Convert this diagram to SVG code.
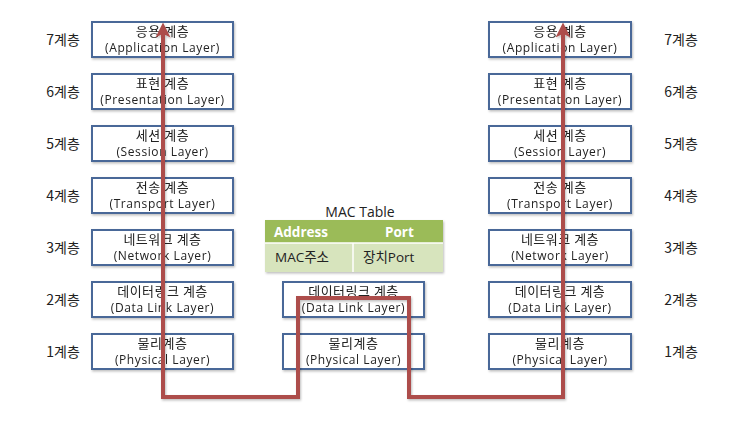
<svg xmlns="http://www.w3.org/2000/svg" width="729" height="428" viewBox="0 0 729 428">
<defs>
<style>
.box{fill:#fff;stroke:#4A6898;stroke-width:2}
.t{font-family:"Noto Sans CJK KR","Noto Sans",sans-serif;font-size:13px;letter-spacing:0.5px;fill:#222;text-anchor:middle}
.e{font-family:"Open Sans","Noto Sans CJK KR",sans-serif;font-size:12px;letter-spacing:0.6px;fill:#222;text-anchor:middle}
.lbl{font-family:"Noto Sans CJK KR","Noto Sans",sans-serif;font-size:14px;fill:#222;text-anchor:middle}
.cap{font-family:"Open Sans","Noto Sans CJK KR",sans-serif;font-size:14px;fill:#222;text-anchor:middle}
.path{fill:none;stroke:#AD4E4C;stroke-width:4;stroke-linejoin:miter}
.th{font-family:"Open Sans","Noto Sans CJK KR",sans-serif;font-size:13.5px;font-weight:bold;fill:#fff}
.td{font-family:"Open Sans","Noto Sans CJK KR",sans-serif;font-size:13.5px;fill:#222}
</style>
<marker id="ah" viewBox="0 0 10 10" refX="5" refY="5" markerUnits="userSpaceOnUse" markerWidth="15" markerHeight="15" orient="auto-start-reverse">
<path d="M0,0 L10,5 L0,10 L2.5,5 Z" fill="#AD4E4C"/>
</marker>
<filter id="sh" x="-10%" y="-10%" width="130%" height="140%">
<feDropShadow dx="1" dy="1.5" stdDeviation="1" flood-color="#000" flood-opacity="0.25"/>
</filter>
</defs>

<g id="left-labels">
<text class="lbl" x="63" y="45">7계층</text>
<text class="lbl" x="63" y="97">6계층</text>
<text class="lbl" x="63" y="149">5계층</text>
<text class="lbl" x="63" y="201">4계층</text>
<text class="lbl" x="63" y="253">3계층</text>
<text class="lbl" x="63" y="305">2계층</text>
<text class="lbl" x="63" y="357">1계층</text>
</g>
<g id="right-labels">
<text class="lbl" x="681" y="45">7계층</text>
<text class="lbl" x="681" y="97">6계층</text>
<text class="lbl" x="681" y="149">5계층</text>
<text class="lbl" x="681" y="201">4계층</text>
<text class="lbl" x="681" y="253">3계층</text>
<text class="lbl" x="681" y="305">2계층</text>
<text class="lbl" x="681" y="357">1계층</text>
</g>

<g id="L7" filter="url(#sh)"><rect class="box" x="92" y="22" width="141" height="35"/><text class="t" x="162.5" y="35.5">응용 계층</text><text class="e" x="162.5" y="52">(Application Layer)</text></g>
<g id="L6" filter="url(#sh)"><rect class="box" x="92" y="74" width="141" height="35"/><text class="t" x="162.5" y="87.5">표현 계층</text><text class="e" x="162.5" y="104">(Presentation Layer)</text></g>
<g id="L5" filter="url(#sh)"><rect class="box" x="92" y="126" width="141" height="35"/><text class="t" x="162.5" y="139.5">세션 계층</text><text class="e" x="162.5" y="156">(Session Layer)</text></g>
<g id="L4" filter="url(#sh)"><rect class="box" x="92" y="178" width="141" height="35"/><text class="t" x="162.5" y="191.5">전송 계층</text><text class="e" x="162.5" y="208">(Transport Layer)</text></g>
<g id="L3" filter="url(#sh)"><rect class="box" x="92" y="230" width="141" height="35"/><text class="t" x="162.5" y="243.5">네트워크 계층</text><text class="e" x="162.5" y="260">(Network Layer)</text></g>
<g id="L2" filter="url(#sh)"><rect class="box" x="92" y="282" width="141" height="35"/><text class="t" x="162.5" y="295.5">데이터링크 계층</text><text class="e" x="162.5" y="312">(Data Link Layer)</text></g>
<g id="L1" filter="url(#sh)"><rect class="box" x="92" y="334" width="141" height="35"/><text class="t" x="162.5" y="347.5">물리계층</text><text class="e" x="162.5" y="364">(Physical Layer)</text></g>

<g id="M2" filter="url(#sh)"><rect class="box" x="283" y="282" width="141" height="35"/><text class="t" x="353.5" y="295.5">데이터링크 계층</text><text class="e" x="353.5" y="312">(Data Link Layer)</text></g>
<g id="M1" filter="url(#sh)"><rect class="box" x="283" y="334" width="141" height="35"/><text class="t" x="353.5" y="347.5">물리계층</text><text class="e" x="353.5" y="364">(Physical Layer)</text></g>

<g id="R7" filter="url(#sh)"><rect class="box" x="489" y="22" width="142" height="35"/><text class="t" x="560" y="35.5">응용 계층</text><text class="e" x="560" y="52">(Application Layer)</text></g>
<g id="R6" filter="url(#sh)"><rect class="box" x="489" y="74" width="142" height="35"/><text class="t" x="560" y="87.5">표현 계층</text><text class="e" x="560" y="104">(Presentation Layer)</text></g>
<g id="R5" filter="url(#sh)"><rect class="box" x="489" y="126" width="142" height="35"/><text class="t" x="560" y="139.5">세션 계층</text><text class="e" x="560" y="156">(Session Layer)</text></g>
<g id="R4" filter="url(#sh)"><rect class="box" x="489" y="178" width="142" height="35"/><text class="t" x="560" y="191.5">전송 계층</text><text class="e" x="560" y="208">(Transport Layer)</text></g>
<g id="R3" filter="url(#sh)"><rect class="box" x="489" y="230" width="142" height="35"/><text class="t" x="560" y="243.5">네트워크 계층</text><text class="e" x="560" y="260">(Network Layer)</text></g>
<g id="R2" filter="url(#sh)"><rect class="box" x="489" y="282" width="142" height="35"/><text class="t" x="560" y="295.5">데이터링크 계층</text><text class="e" x="560" y="312">(Data Link Layer)</text></g>
<g id="R1" filter="url(#sh)"><rect class="box" x="489" y="334" width="142" height="35"/><text class="t" x="560" y="347.5">물리계층</text><text class="e" x="560" y="364">(Physical Layer)</text></g>

<g id="mac-table">
<text class="cap" x="360" y="217">MAC Table</text>
<g filter="url(#sh)">
<rect x="265" y="220" width="178" height="23" fill="#9BBB59"/>
<rect x="265" y="243" width="178" height="29" fill="#D7E4BD"/>
<line x1="265" y1="243" x2="443" y2="243" stroke="#fff" stroke-width="1.5"/>
<line x1="353" y1="243" x2="353" y2="272" stroke="#fff" stroke-width="1.5"/>
</g>
<text class="th" x="274" y="237">Address</text>
<text class="th" x="385" y="237">Port</text>
<text class="td" x="275" y="262">MAC주소</text>
<text class="td" x="363" y="262">장치Port</text>
</g>

<g id="connectors" filter="url(#sh)">
<path class="path" d="M163,30 V397 H298 V298 H409 V397 H563 V30" marker-start="url(#ah)" marker-end="url(#ah)"/>
</g>
</svg>
